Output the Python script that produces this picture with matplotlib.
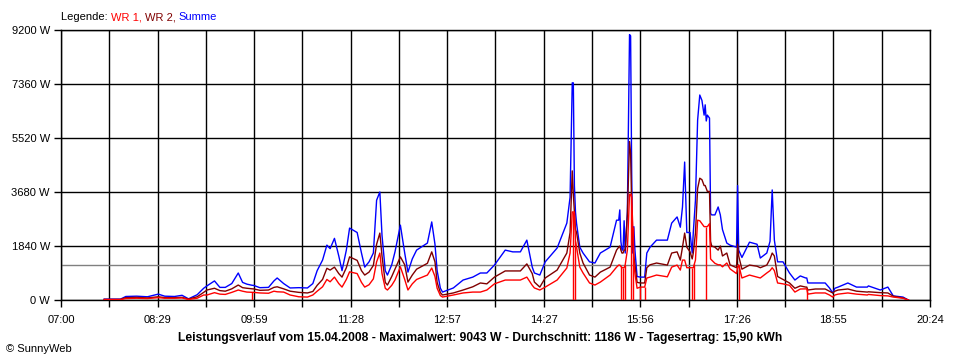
import numpy as np
import matplotlib.pyplot as plt

# Zeitpunkte und Leistung in W
zeit = ["07:40", "07:55", "08:00", "08:10", "08:20", "08:30", "08:36", "08:45", "08:52", "08:58",
        "09:06", "09:12", "09:15", "09:22", "09:27", "09:32", "09:38", "09:44", "09:48", "09:52",
        "09:57", "09:58", "10:04", "10:12", "10:17", "10:20", "10:26", "10:32", "10:40", "10:48",
        "10:53", "10:57", "11:02", "11:06", "11:09", "11:13", "11:17", "11:20", "11:24", "11:27",
        "11:34", "11:38", "11:41", "11:45", "11:49", "11:52", "11:55", "11:57", "12:00", "12:02",
        "12:06", "12:09", "12:14", "12:18", "12:21", "12:25", "12:29", "12:39", "12:43", "12:46",
        "12:48", "12:51", "12:53", "13:03", "13:12", "13:21", "13:28", "13:34", "13:41", "13:51",
        "13:58", "14:05", "14:11", "14:16", "14:18", "14:23", "14:28", "14:39", "14:48", "14:51",
        "14:53", "14:54", "14:55", "14:56", "14:57", "15:00", "15:03", "15:09", "15:14", "15:19",
        "15:28", "15:34", "15:36", "15:37", "15:38", "15:39", "15:40", "15:41", "15:42", "15:44",
        "15:46", "15:47", "15:48", "15:49", "15:50", "15:51", "15:53", "15:56", "15:57", "15:59",
        "16:00", "16:02", "16:05", "16:11", "16:21", "16:25", "16:30", "16:33", "16:35", "16:37",
        "16:39", "16:42", "16:44", "16:45", "16:47", "16:49", "16:51", "16:53", "16:55", "16:56",
        "16:57", "16:58", "17:00", "17:01", "17:02", "17:05", "17:08", "17:10", "17:12", "17:16",
        "17:19", "17:25", "17:26", "17:27", "17:30", "17:37", "17:44", "17:47", "17:53", "17:56",
        "17:58", "18:00", "18:03", "18:08", "18:14", "18:19", "18:24", "18:29", "18:30", "18:31",
        "18:38", "18:47", "18:51", "18:54", "18:56", "18:59", "19:08", "19:16", "19:26", "19:27",
        "19:38", "19:45", "19:50", "19:59", "20:04"]

summe = [30, 30, 120, 130, 110, 200, 130, 120, 160, 40,
         180, 400, 480, 650, 430, 430, 560, 920, 600, 540,
         500, 500, 420, 430, 650, 750, 560, 410, 420, 410,
         560, 1000, 1360, 1870, 1750, 2100, 1500, 1000, 1700, 2450,
         2300, 1600, 1120, 1300, 1600, 3400, 3680, 2200, 1000, 850,
         1200, 1640, 2550, 1600, 950, 1400, 1700, 1940, 2660, 1900,
         1000, 400, 270, 410, 680, 780, 920, 920, 1190, 1700,
         1640, 1640, 2040, 1120, 920, 850, 1300, 1770, 2620, 3500,
         7400, 7400, 3900, 3000, 2600, 1800, 1600, 1300, 1260, 1600,
         1800, 2720, 2720, 3070, 2000, 1700, 1700, 2700, 1600, 3000,
         9043, 9000, 4300, 1600, 2500, 1700, 800, 780, 780, 780,
         780, 1600, 1800, 2040, 2040, 2620, 2830, 2480, 3170, 4700,
         2300, 2300, 1600, 2300, 3400, 6130, 6985, 6800, 6300, 6650,
         6100, 6300, 6200, 2950, 2900, 2900, 3170, 2900, 2400, 1940,
         1870, 1800, 3900, 1700, 1450, 1970, 1900, 1430, 1600, 2000,
         3750, 2040, 1300, 1300, 920, 680, 820, 750, 750, 580,
         580, 580, 410, 240, 400, 440, 580, 440, 440, 480,
         340, 440, 140, 100, 0]

wr1 = [15, 15, 50, 60, 50, 80, 60, 60, 70, 20,
       60, 170, 170, 250, 200, 190, 260, 340, 300, 270,
       260, 260, 240, 230, 300, 280, 270, 170, 110, 100,
       170, 300, 450, 700, 620, 780, 560, 440, 700, 960,
       900, 600, 440, 520, 720, 1300, 1600, 900, 400, 340,
       500, 680, 1130, 700, 340, 550, 700, 850, 1090, 800,
       400, 150, 100, 170, 240, 270, 270, 340, 550, 680,
       680, 680, 780, 500, 410, 340, 440, 680, 1090, 1600,
       3000, 3000, 3000, 2000, 1800, 1120, 920, 580, 510, 610,
       850, 1120, 1190, 1190, 1150, 1100, 1100, 1100, 1200, 1700,
       3600, 3600, 3500, 2500, 1300, 900, 400, 440, 440, 440,
       440, 750, 780, 850, 790, 1120, 1190, 1020, 1360, 1360,
       1100, 1100, 1100, 1100, 1360, 2720, 2700, 2600, 2500, 2500,
       2500, 2500, 2600, 1400, 1360, 1250, 1200, 1200, 1130, 1260,
       1060, 900, 1100, 1200, 750, 850, 780, 750, 920, 1000,
       1100, 1000, 580, 550, 500, 270, 375, 380, 380, 200,
       240, 240, 170, 100, 170, 200, 240, 200, 170, 190,
       150, 140, 100, 60, 0]

wr2 = [20, 20, 80, 90, 70, 110, 80, 80, 90, 30,
       110, 260, 340, 400, 320, 300, 380, 510, 420, 400,
       380, 380, 330, 340, 430, 450, 380, 300, 260, 240,
       290, 500, 700, 1080, 1020, 1120, 900, 780, 1100, 1470,
       1350, 1000, 850, 950, 1180, 1900, 2280, 1500, 600, 510,
       800, 1050, 1470, 1200, 610, 850, 1050, 1250, 1640, 1300,
       600, 250, 170, 240, 340, 450, 580, 550, 780, 990,
       990, 990, 1230, 900, 610, 440, 750, 1020, 1600, 2300,
       4400, 3600, 3000, 2400, 2300, 1600, 1260, 850, 780, 950,
       1120, 1700, 1800, 1840, 1700, 1600, 1600, 1700, 1700, 2900,
       5400, 5000, 3200, 1900, 1500, 1200, 600, 580, 580, 580,
       580, 1100, 1200, 1260, 1190, 1600, 1640, 1360, 1800, 2280,
       1800, 1640, 1400, 1600, 2280, 3800, 4150, 4100, 3900, 3900,
       3800, 3700, 3700, 2000, 1840, 1800, 1700, 1840, 1500, 1600,
       1200, 1100, 1900, 1500, 1050, 1190, 1150, 1100, 1190, 1400,
       1600, 1500, 800, 700, 580, 400, 480, 440, 440, 340,
       375, 375, 300, 240, 300, 340, 375, 300, 270, 280,
       250, 240, 130, 70, 0]

# kurze Ausfaelle von WR 1 (Einbrueche auf 0 W)
wr1_ausfall = ["09:57", "14:54", "14:56", "15:38", "15:40", "15:42", "15:47", "15:49",
               "15:56", "16:00", "16:44", "16:46", "16:57", "17:27", "18:30"]

durchschnitt = 1186
y_ticks = [0, 1840, 3680, 5520, 7360, 9200]
x_labels = ["07:00", "08:29", "09:59", "11:28", "12:57", "14:27", "15:56", "17:26", "18:55", "20:24"]


def minuten(s):
    h, m = s.split(":")
    return int(h) * 60 + int(m)


t = np.array([minuten(z) for z in zeit])
t_aus = np.array([minuten(z) for z in wr1_ausfall])
t0 = minuten("07:00")
t1 = minuten("20:24")

plt.rcParams['font.family'] = ['Liberation Sans', 'DejaVu Sans']
fig = plt.figure(figsize=(9.6, 3.6), dpi=100)
ax = fig.add_axes([61 / 960, 60 / 360, 869 / 960, 270 / 360])

ax.axhline(durchschnitt, color='#808080', lw=1.0, zorder=2)
ax.plot(t, summe, color='#0000FF', lw=1.0, zorder=3)
ax.plot(t, wr2, color='#800000', lw=1.0, zorder=4)
ax.plot(t, wr1, color='#FF0000', lw=1.0, zorder=5)
ax.vlines(t_aus, 0, np.interp(t_aus, t, wr1), color='#FF0000', lw=1.0, zorder=5)

ax.set_xlim(t0, t1)
ax.set_ylim(0, 9200)
xt = np.linspace(t0, t1, 19)
ax.set_xticks(xt)
lbl = []
for i in range(19):
    lbl.append(x_labels[i // 2] if i % 2 == 0 else "")
ax.set_xticklabels(lbl)
ax.set_yticks(y_ticks)
ax.set_yticklabels([f"{v} W" for v in y_ticks])
ax.grid(True, color='black', lw=1.0, zorder=1)
ax.set_axisbelow(True)
ax.tick_params(direction='out', length=5, width=1.0, color='black', labelsize=8)
ax.tick_params(axis='x', pad=6)
ax.tick_params(axis='y', pad=3)
for s in ax.spines.values():
    s.set_linewidth(1.0)

fig.text(0.5, 22 / 360, "Leistungsverlauf vom 15.04.2008 - Maximalwert: 9043 W - Durchschnitt: 1186 W - Tagesertrag: 15,90 kWh",
         ha='center', va='center', fontsize=8.7, fontweight='bold')
fig.text(6 / 960, 11 / 360, "\u00a9 SunnyWeb", ha='left', va='center', fontsize=8)

# Legende oben links, farbige Textstuecke hintereinander
teile = [("Legende: ", 'black'), ("WR 1, ", '#FF0000'), ("WR 2, ", '#800000'), ("Summe", '#0000FF')]
fig.canvas.draw()
r = fig.canvas.get_renderer()
x = 61 / 960
for txt, col in teile:
    tt = fig.text(x, 343 / 360, txt, color=col, fontsize=8, ha='left', va='center')
    bb = tt.get_window_extent(renderer=r)
    x = bb.x1 / fig.bbox.width

fig.savefig("out.png", dpi=100)
